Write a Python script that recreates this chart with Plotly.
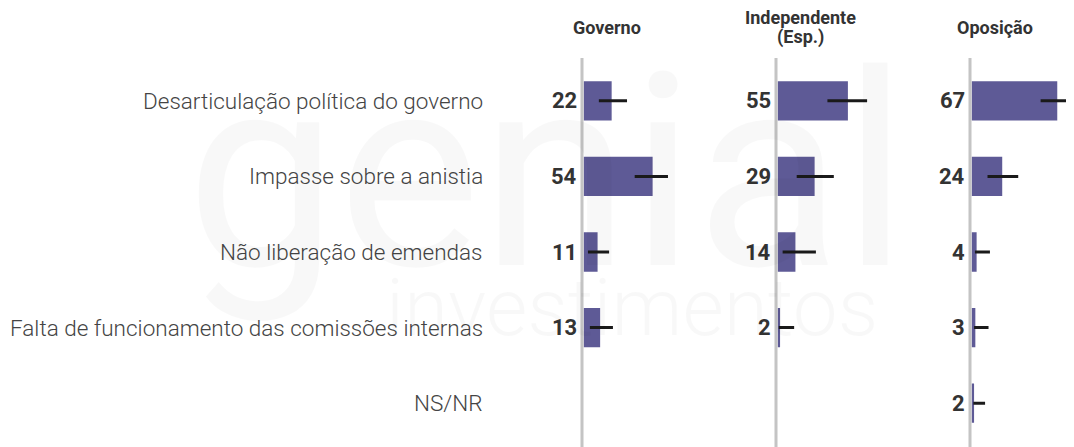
import plotly.graph_objects as go

# ---- data -------------------------------------------------------------
categories = [
    "Desarticulação política do governo",
    "Impasse sobre a anistia",
    "Não liberação de emendas",
    "Falta de funcionamento das comissões internas",
    "NS/NR",
]
groups = [["Governo"], ["Independente", "(Esp.)"], ["Oposição"]]

governo = [22, 54, 11, 13, None]
governo_low = [12, 40, 3.5, 5, None]
governo_high = [34, 66, 20, 23, None]

independente = [55, 29, 14, 2, None]
independente_low = [39, 15, 4, 1, None]
independente_high = [70, 44, 30, 13, None]

oposicao = [67, 24, 4, 3, 2]
oposicao_low = [54, 12.5, 2.7, 2, 1.4]
oposicao_high = [80, 36.5, 14.4, 13.3, 10.6]

series = [
    (governo, governo_low, governo_high),
    (independente, independente_low, independente_high),
    (oposicao, oposicao_low, oposicao_high),
]

# ---- layout constants (page pixels; the page body adds an 8px margin) --
OFF = 8
W, H = 1074 - OFF, 447 - OFF
BAR_COLOR = "#5e5a96"
baselines = [583.5 - OFF, 777.5 - OFF, 971.5 - OFF]  # x pixel of zero per panel
PX_PER_UNIT = 1.28
X_MAX = 80
TOP, BOTTOM = 63 - OFF, 6

fig = go.Figure()

for i, (vals, lo, hi) in enumerate(series):
    ax = "" if i == 0 else str(i + 1)
    plus = [None if v is None else h - v for v, h in zip(vals, hi)]
    minus = [None if v is None else v - l for v, l in zip(vals, lo)]
    fig.add_trace(
        go.Bar(
            x=vals,
            y=categories,
            orientation="h",
            marker=dict(color=BAR_COLOR, line=dict(width=0)),
            width=0.52,
            error_x=dict(type="data", array=plus, arrayminus=minus, color="#1a1a1a", thickness=3, width=0),
            xaxis="x" + ax,
            yaxis="y",
            hoverinfo="skip",
            showlegend=False,
        )
    )
    x0 = baselines[i]
    x1 = x0 + PX_PER_UNIT * X_MAX
    fig.layout["xaxis" + ax] = dict(
        domain=[x0 / W, min(x1 / W, 1)],
        range=[0, X_MAX],
        visible=False,
        fixedrange=True,
        anchor="y",
    )
    # value labels
    for cat, v in zip(categories, vals):
        if v is None:
            continue
        fig.add_annotation(
            x=(x0 - 5) / W, xref="paper", y=cat, yref="y",
            text=str(v), showarrow=False, xanchor="right", yanchor="middle",
            font=dict(family="Roboto", size=22, color="#333333", weight=700),
        )
    # vertical baseline
    plot_h = H - TOP - BOTTOM
    fig.add_shape(
        type="line", xref="paper", yref="paper",
        x0=(x0 - 1.5) / W, x1=(x0 - 1.5) / W,
        y0=-BOTTOM / plot_h - 0.01, y1=(H - (58 - OFF) - BOTTOM) / plot_h,
        line=dict(color="#c4c4c4", width=3), layer="above",
    )
    # group header (one annotation per line, tight leading)
    lines = groups[i]
    centers = [27] if len(lines) == 1 else [17, 37]
    for line, cy in zip(lines, centers):
        fig.add_annotation(
            x=(x0 + 23) / W, xref="paper", y=1, yref="paper", yshift=TOP - (cy - OFF),
            text="<b>" + line + "</b>", showarrow=False, xanchor="center", yanchor="middle",
            font=dict(family="Roboto", size=18, color="#333333"),
        )

# category labels
for cat in categories:
    fig.add_annotation(
        x=(485 - OFF) / W, xref="paper", y=cat, yref="y",
        text=cat, showarrow=False, xanchor="right", yanchor="middle",
        font=dict(family="Roboto", size=22.5, color="#444444", weight=300),
    )

# faint watermark
fig.add_annotation(
    x=(547 - OFF) / W, xref="paper", y=1, yref="paper", yshift=-110,
    text="genial", showarrow=False, xanchor="center", yanchor="middle",
    font=dict(family="Roboto", size=270, color="rgba(0,0,0,0.028)"),
)
fig.add_annotation(
    x=(632 - OFF) / W, xref="paper", y=1, yref="paper", yshift=-245,
    text="investimentos", showarrow=False, xanchor="center", yanchor="middle",
    font=dict(family="Roboto", size=80, color="rgba(0,0,0,0.028)", weight=300),
)

fig.update_layout(
    width=W,
    height=H,
    margin=dict(l=0, r=0, t=TOP, b=BOTTOM),
    plot_bgcolor="white",
    paper_bgcolor="white",
    barmode="group",
    yaxis=dict(
        categoryorder="array",
        categoryarray=categories,
        autorange="reversed",
        visible=False,
        fixedrange=True,
    ),
)

fig.write_html("out.html")
